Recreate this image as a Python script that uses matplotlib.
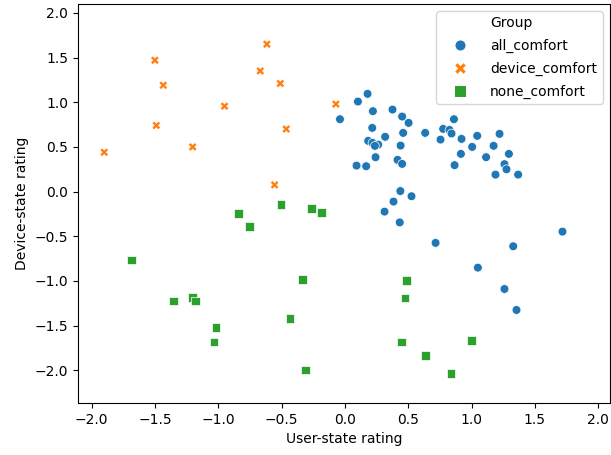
import pandas as pd
import matplotlib
matplotlib.use("Agg")
import matplotlib.pyplot as plt
from matplotlib.lines import Line2D
import seaborn as sns

# all_comfort group
all_x = [-0.039, 0.103, 0.179, 0.221, 0.376, 0.452, 0.503, 0.216, 0.46, 0.634,
         0.776, 0.826, 0.842, 0.861, 0.318, 0.184, 0.218, 0.263, 0.237, 0.44,
         0.755, 0.921, 1.045, 1.221, 1.005, 1.174, 1.295, 0.916, 1.115, 0.242,
         0.416, 0.452, 0.092, 0.168, 0.866, 1.26, 1.276, 1.189, 1.368, 0.438,
         0.526, 0.384, 0.313, 0.433, 0.716, 1.329, 1.05, 1.26, 1.355, 1.718]
all_y = [0.81, 1.008, 1.094, 0.90, 0.918, 0.84, 0.769, 0.713, 0.657, 0.657,
         0.702, 0.69, 0.65, 0.81, 0.613, 0.568, 0.545, 0.526, 0.512, 0.515,
         0.582, 0.59, 0.624, 0.646, 0.50, 0.512, 0.422, 0.422, 0.385, 0.385,
         0.355, 0.31, 0.291, 0.284, 0.296, 0.307, 0.25, 0.19, 0.19, 0.006,
         -0.052, -0.112, -0.224, -0.345, -0.574, -0.612, -0.851, -1.09, -1.325, -0.448]

# device_comfort group
dev_x = [-1.90, -1.50, -1.434, -1.489, -1.202, -0.95, -0.616, -0.668, -0.51, -0.463, -0.555, -0.071]
dev_y = [0.44, 1.47, 1.19, 0.74, 0.50, 0.956, 1.65, 1.35, 1.21, 0.70, 0.075, 0.979]

# none_comfort group
none_x = [-0.505, -0.839, -0.263, -0.182, -0.755, -1.684, -0.334, -1.355, -1.202, -1.178,
          -0.434, -1.018, -1.034, -0.313, 0.484, 0.474, 0.447, 0.637, 0.837, 1.0]
none_y = [-0.146, -0.242, -0.186, -0.235, -0.392, -0.765, -0.981, -1.224, -1.183, -1.224,
          -1.418, -1.52, -1.683, -1.997, -0.992, -1.19, -1.683, -1.836, -2.04, -1.664]

groups = ["all_comfort", "device_comfort", "none_comfort"]
markers = {"all_comfort": "o", "device_comfort": "X", "none_comfort": "s"}
colors = {"all_comfort": "#1f77b4", "device_comfort": "#ff7f0e", "none_comfort": "#2ca02c"}

df = pd.DataFrame({
    "User-state rating": all_x + dev_x + none_x,
    "Device-state rating": all_y + dev_y + none_y,
    "Group": ["all_comfort"] * len(all_x) + ["device_comfort"] * len(dev_x) + ["none_comfort"] * len(none_x),
})

fig = plt.figure(figsize=(6.11, 4.55), dpi=100)
ax = fig.add_axes([0.1277, 0.1143, 0.870, 0.877])
sns.scatterplot(data=df, x="User-state rating", y="Device-state rating",
                hue="Group", style="Group", markers=markers, palette=colors,
                s=40, ax=ax, legend=False)
ax.set_xlim(-2.107, 2.09)
ax.set_ylim(-2.366, 2.10)

# old-seaborn style legend: title as a blank entry
handles = [Line2D([], [], linestyle="none", marker="")]
for g in groups:
    handles.append(Line2D([], [], linestyle="none", marker=markers[g], color=colors[g],
                          markeredgecolor="white", markeredgewidth=0.75, markersize=8))
ax.legend(handles, ["Group"] + groups, loc="upper right",
          handlelength=2.7, labelspacing=0.62)
fig.savefig("out.png", dpi=100)
